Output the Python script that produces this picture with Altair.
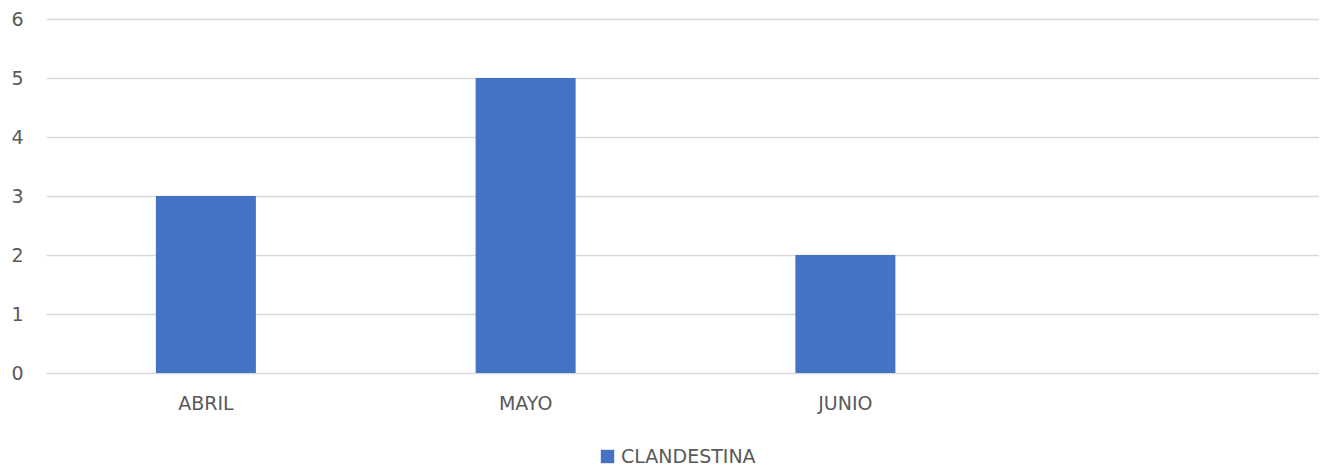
import altair as alt
import pandas as pd

months = ["ABRIL", "MAYO", "JUNIO"]
values = [3, 5, 2]
series = ["CLANDESTINA", "CLANDESTINA", "CLANDESTINA"]
domain = ["ABRIL", "MAYO", "JUNIO", " "]

df = pd.DataFrame({"mes": months, "valor": values, "serie": series})

FONT = "DejaVu Sans"
TXT = "#595959"
FS = 19

chart = alt.Chart(df).mark_bar(color="#4472C4").encode(
    x=alt.X("mes:N", sort=domain,
            scale=alt.Scale(domain=domain, range=[0, 1279],
                            paddingInner=0.6873, paddingOuter=0.34365),
            axis=alt.Axis(title=None, domain=False, ticks=False, labelAngle=0,
                          labelPadding=21, labelFontSize=FS, labelColor=TXT,
                          labelFont=FONT, grid=False)),
    y=alt.Y("valor:Q", scale=alt.Scale(domain=[0, 6], nice=False),
            axis=alt.Axis(title=None, domain=False, ticks=False, values=[0, 1, 2, 3, 4, 5, 6],
                          labelPadding=23, labelFontSize=FS, labelColor=TXT, labelFont=FONT,
                          grid=True, gridColor="#D9D9D9", gridWidth=1.5)),
    color=alt.Color("serie:N", scale=alt.Scale(range=["#4472C4"]),
                    legend=alt.Legend(title=None, orient="none", legendX=552, legendY=428,
                                      symbolType="square", symbolSize=180,
                                      symbolStrokeWidth=0, labelFontSize=FS,
                                      labelColor=TXT, labelFont=FONT, labelOffset=4)),
).properties(
    width=1273, height=354,
    autosize=alt.AutoSizeParams(type="none"),
    padding={"left": 38, "top": 11, "right": 0, "bottom": 92},
).configure_view(stroke=None)

chart.save("out.html", embed_options={"renderer": "svg", "actions": False})
